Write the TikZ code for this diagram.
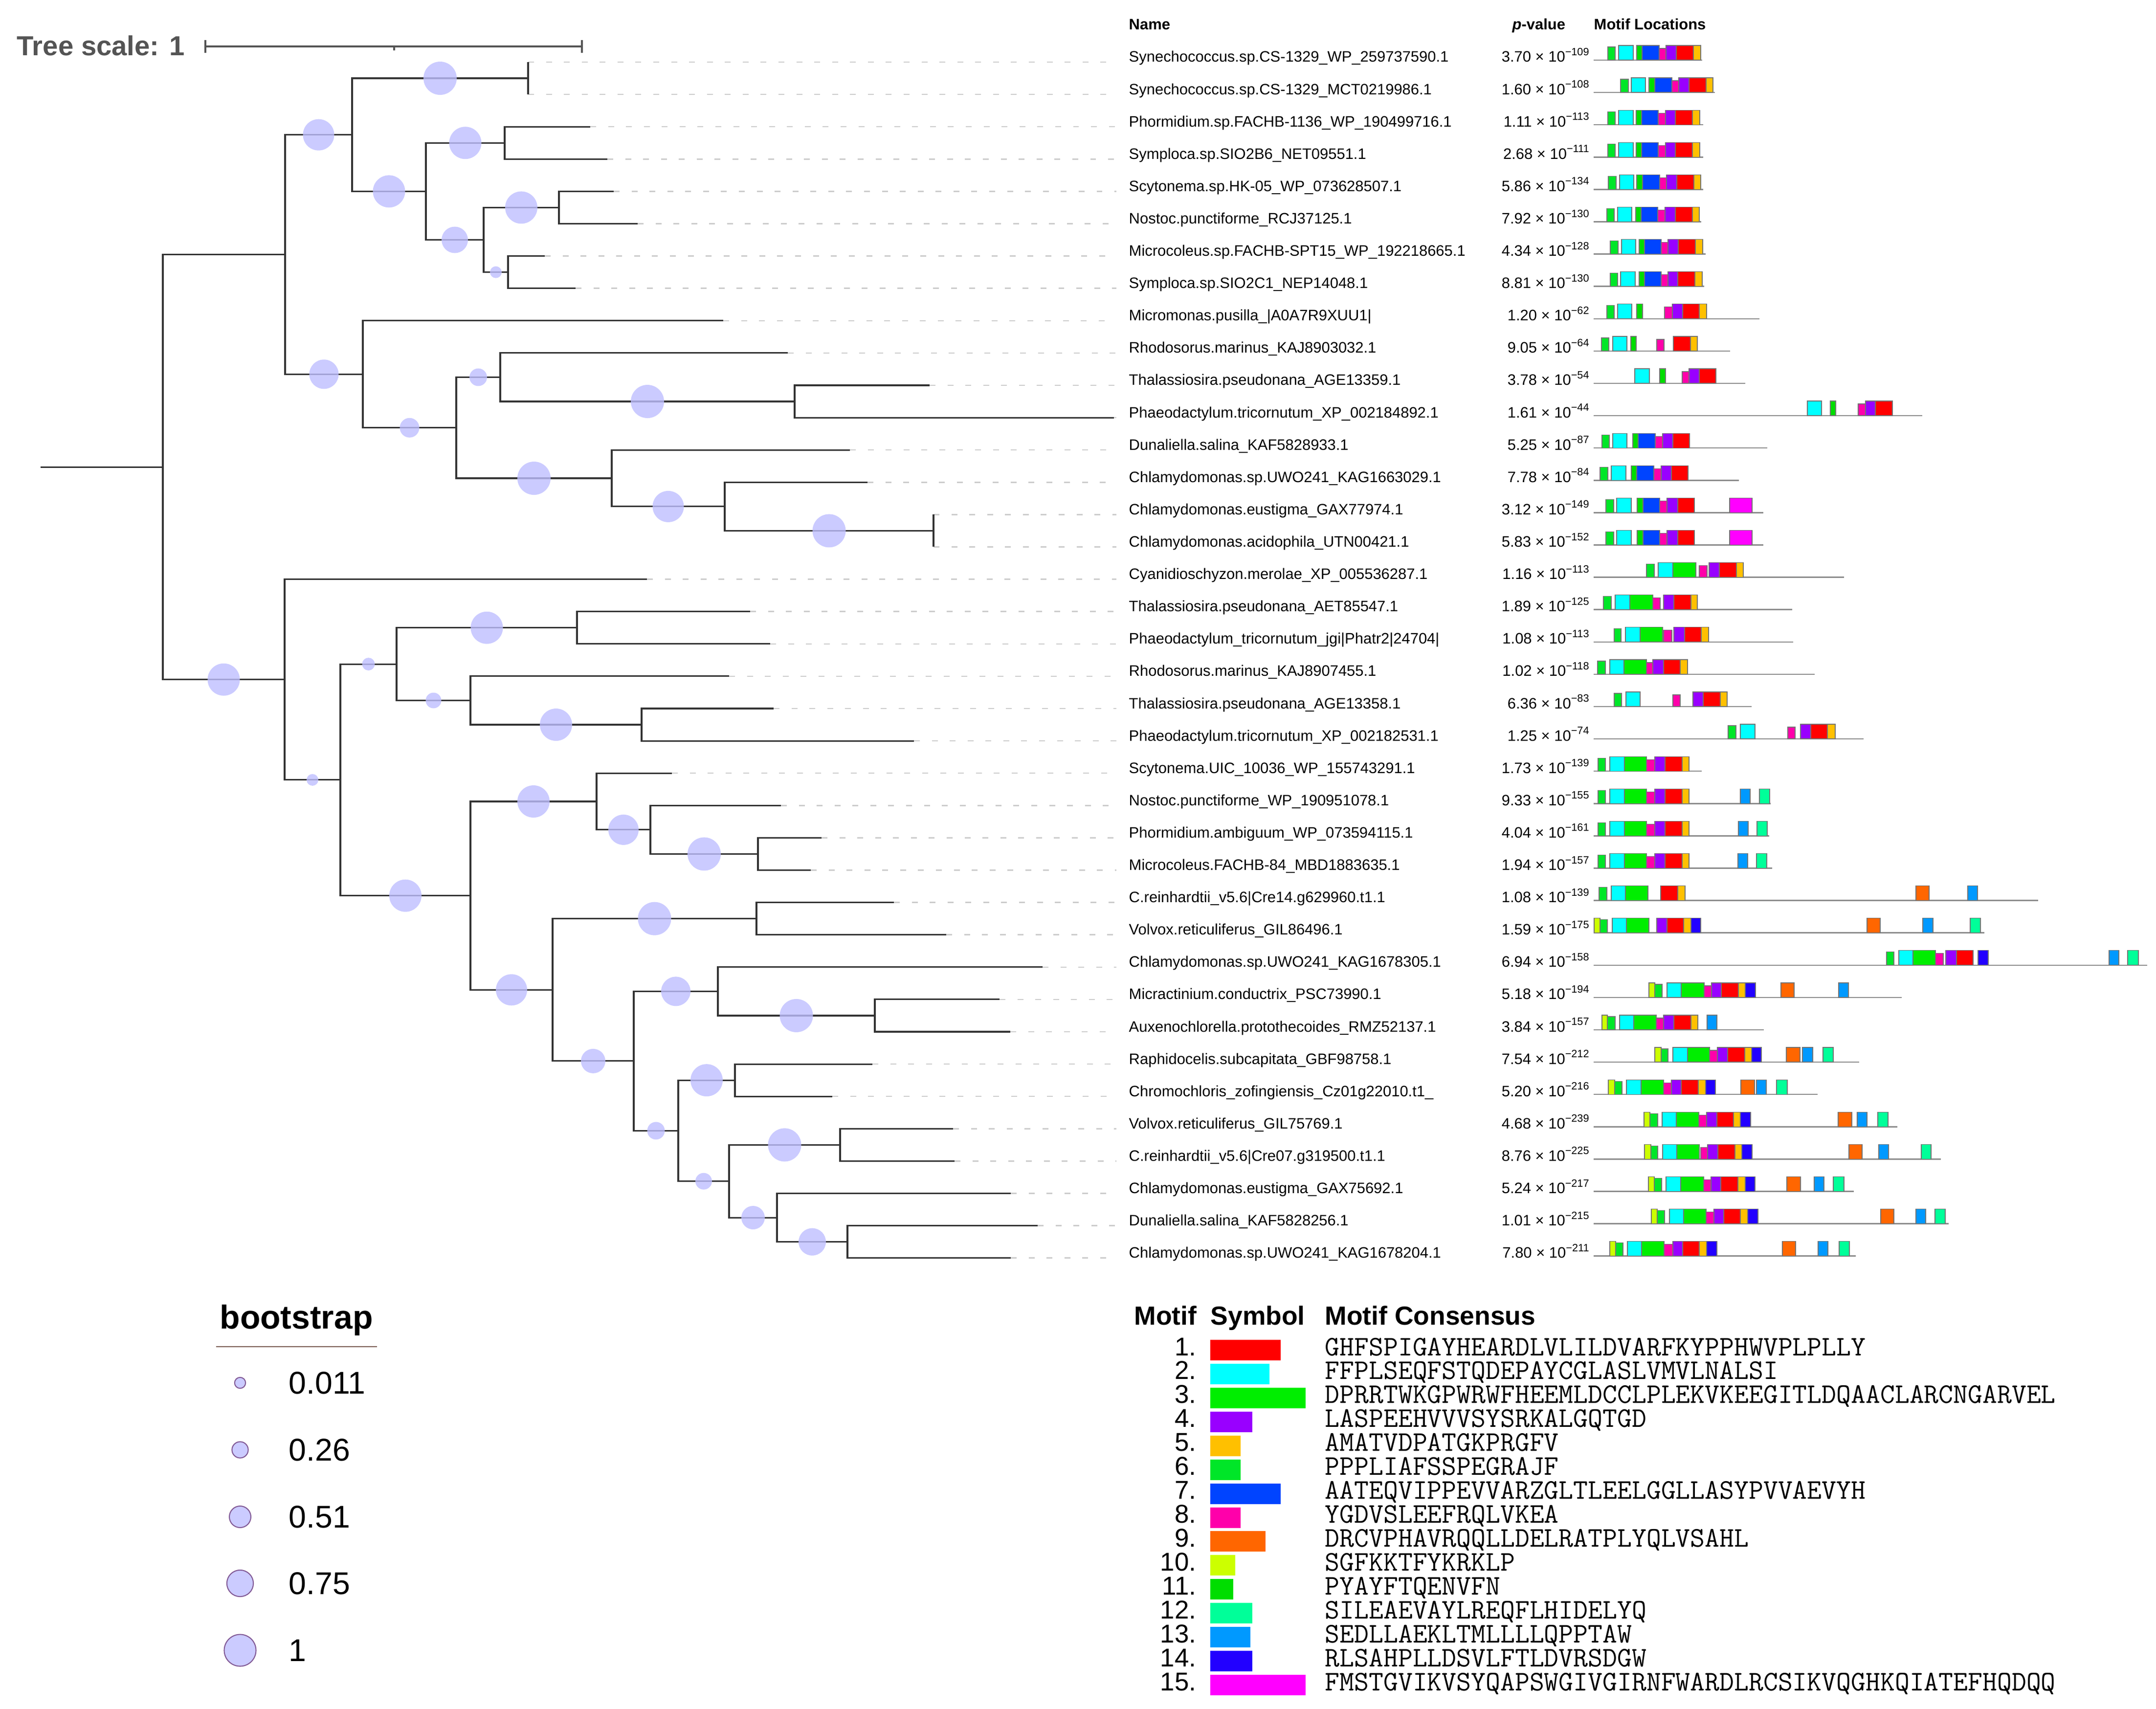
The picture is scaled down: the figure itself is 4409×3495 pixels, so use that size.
\documentclass[tikz,border=0pt]{standalone}
\usepackage{fontspec}
\setmainfont{Liberation Sans}
\usetikzlibrary{calc}

\definecolor{m1}{RGB}{255,0,0}
\definecolor{m2}{RGB}{0,255,255}
\definecolor{m3}{RGB}{0,238,0}
\definecolor{m4}{RGB}{153,0,255}
\definecolor{m5}{RGB}{255,192,0}
\definecolor{m6}{RGB}{0,230,40}
\definecolor{m7}{RGB}{0,68,255}
\definecolor{m8}{RGB}{255,0,170}
\definecolor{m9}{RGB}{255,102,0}
\definecolor{m10}{RGB}{204,255,0}
\definecolor{m11}{RGB}{0,221,0}
\definecolor{m12}{RGB}{0,255,153}
\definecolor{m13}{RGB}{0,153,255}
\definecolor{m14}{RGB}{34,0,255}
\definecolor{m15}{RGB}{255,0,255}
\definecolor{bootfill}{RGB}{190,190,255}
\definecolor{bootline}{RGB}{130,90,150}
\definecolor{rulebrown}{RGB}{120,90,80}

\begin{document}
\begin{tikzpicture}[x=0.01cm, y=-0.01cm,
	branch/.style={draw=black!80, line width=0.9pt},
	boot/.style={fill=bootfill, fill opacity=0.8},
	leader/.style={draw=black!20, line width=0.7pt, dash pattern=on 3.4pt off 7pt},
	taxon/.style={anchor=base west, inner xsep=0.25cm, inner ysep=0pt, font=\fontsize{8.8}{10}\selectfont},
	pval/.style={anchor=base east, inner sep=0pt, font=\fontsize{8.8}{10}\selectfont},
	head/.style={anchor=base west, inner sep=0pt, font=\fontsize{8.8}{10}\selectfont\bfseries},
	seqline/.style={draw=black!45, line width=0.7pt},
	motifbox/.style={draw=black!55, line width=0.35pt},
	bootkey/.style={circle, draw=bootline, line width=0.6pt, fill=bootfill!80, inner sep=0pt},
	bootval/.style={anchor=west, inner sep=0pt, font=\fontsize{18.3}{20}\selectfont},
	keyhead/.style={anchor=base west, inner sep=0pt, font=\fontsize{15.2}{17}\selectfont\bfseries},
	motifno/.style={anchor=base east, inner sep=0pt, font=\fontsize{15}{17}\selectfont},
	consensus/.style={anchor=base west, inner sep=0pt, text height=0.62em, text depth=0.1em, font=\fontsize{16.5}{18}\selectfont\ttfamily}]

	\useasboundingbox (0,0) rectangle (4409,3495);

	%%%%% SCALE %%%%%
	\node[anchor=base west, inner sep=0pt, text=black!67, font=\fontsize{16}{18}\selectfont\bfseries] (scaletext) at (34,114) {Tree scale: 1};
	\draw[draw=black!67, line width=0.9pt] (420,95) -- (1190,95);
	\draw[draw=black!67, line width=0.9pt] (420,82) -- (420,108);
	\draw[draw=black!67, line width=0.9pt] (1190,82) -- (1190,108);
	\draw[draw=black!67, line width=0.9pt] (806,95) -- (806,103);

	%%%%% HEADERS %%%%%
	\node[head] (hname) at (2308,61) {Name};
	\node[head] (hpval) at (3092,61) {\textit{p}-value};
	\node[head] (hloc) at (3259,61) {Motif Locations};

	%%%%% TREE NODES %%%%%
	\coordinate (stem) at (83,955.1);
	\coordinate (R) at (333,955.1);
	\coordinate (A) at (583,520.5);
	\coordinate (A1) at (720,275.7);
	\coordinate (A1a) at (1080,160.05);
	\coordinate (A1b) at (871,391.4);
	\coordinate (A1b1) at (1032,292.25);
	\coordinate (A1b2) at (989,490.55);
	\coordinate (A1b2a) at (1143,424.45);
	\coordinate (A1b2b) at (1039,556.65);
	\coordinate (A2) at (742,765.3);
	\coordinate (A2b) at (933,874.8);
	\coordinate (A2b1) at (1023,771.5);
	\coordinate (A2b1b) at (1625,821.05);
	\coordinate (A2b2) at (1251,978.05);
	\coordinate (A2b2b) at (1482,1035.9);
	\coordinate (A2b2b2) at (1909,1085.45);
	\coordinate (B) at (582,1389.75);
	\coordinate (B2) at (696,1594.9);
	\coordinate (B2a) at (811,1358.1);
	\coordinate (B2a1) at (1180,1283.75);
	\coordinate (B2a2) at (962,1432.5);
	\coordinate (B2a2b) at (1312,1482.05);
	\coordinate (B2b) at (962,1831.7);
	\coordinate (B2b1) at (1220,1639.05);
	\coordinate (B2b1b) at (1330,1696.9);
	\coordinate (B2b1b2) at (1550,1746.45);
	\coordinate (B2b2) at (1130,2024.3);
	\coordinate (B2b2a) at (1547,1878.65);
	\coordinate (B2b2b) at (1296,2169.9);
	\coordinate (B2b2b1) at (1468,2027.4);
	\coordinate (B2b2b1b) at (1789,2076.95);
	\coordinate (B2b2b2) at (1387,2312.4);
	\coordinate (B2b2b2a) at (1503,2209.15);
	\coordinate (B3) at (1491,2415.7);
	\coordinate (B3a) at (1718,2341.35);
	\coordinate (B3b) at (1589,2490.1);
	\coordinate (B3b2) at (1733,2539.65);

	%%%%% LEAVES, NAMES, P-VALUES %%%%%
	\foreach \i/\tx/\nm/\pv/\pe in {
		1/1080/Synechococcus.sp.CS-1329\_WP\_259737590.1/3.70/109,
		2/1080/Synechococcus.sp.CS-1329\_MCT0219986.1/1.60/108,
		3/1207/Phormidium.sp.FACHB-1136\_WP\_190499716.1/1.11/113,
		4/1242/Symploca.sp.SIO2B6\_NET09551.1/2.68/111,
		5/1255/Scytonema.sp.HK-05\_WP\_073628507.1/5.86/134,
		6/1304/Nostoc.punctiforme\_RCJ37125.1/7.92/130,
		7/1114/Microcoleus.sp.FACHB-SPT15\_WP\_192218665.1/4.34/128,
		8/1177/Symploca.sp.SIO2C1\_NEP14048.1/8.81/130,
		9/1479/Micromonas.pusilla\_|A0A7R9XUU1|/1.20/62,
		10/1611/Rhodosorus.marinus\_KAJ8903032.1/9.05/64,
		11/1901/Thalassiosira.pseudonana\_AGE13359.1/3.78/54,
		12/2278/Phaeodactylum.tricornutum\_XP\_002184892.1/1.61/44,
		13/1738/Dunaliella.salina\_KAF5828933.1/5.25/87,
		14/1774/Chlamydomonas.sp.UWO241\_KAG1663029.1/7.78/84,
		15/1909/Chlamydomonas.eustigma\_GAX77974.1/3.12/149,
		16/1909/Chlamydomonas.acidophila\_UTN00421.1/5.83/152,
		17/1323/Cyanidioschyzon.merolae\_XP\_005536287.1/1.16/113,
		18/1534/Thalassiosira.pseudonana\_AET85547.1/1.89/125,
		19/1575/Phaeodactylum\_tricornutum\_jgi|Phatr2|24704|/1.08/113,
		20/1491/Rhodosorus.marinus\_KAJ8907455.1/1.02/118,
		21/1582/Thalassiosira.pseudonana\_AGE13358.1/6.36/83,
		22/1869/Phaeodactylum.tricornutum\_XP\_002182531.1/1.25/74,
		23/1374/Scytonema.UIC\_10036\_WP\_155743291.1/1.73/139,
		24/1597/Nostoc.punctiforme\_WP\_190951078.1/9.33/155,
		25/1680/Phormidium.ambiguum\_WP\_073594115.1/4.04/161,
		26/1658/Microcoleus.FACHB-84\_MBD1883635.1/1.94/157,
		27/1828/C.reinhardtii\_v5.6|Cre14.g629960.t1.1/1.08/139,
		28/1935/Volvox.reticuliferus\_GIL86496.1/1.59/175,
		29/2132/Chlamydomonas.sp.UWO241\_KAG1678305.1/6.94/158,
		30/2044/Micractinium.conductrix\_PSC73990.1/5.18/194,
		31/2066/Auxenochlorella.protothecoides\_RMZ52137.1/3.84/157,
		32/1784/Raphidocelis.subcapitata\_GBF98758.1/7.54/212,
		33/1702/Chromochloris\_zofingiensis\_Cz01g22010.t1\_/5.20/216,
		34/1949/Volvox.reticuliferus\_GIL75769.1/4.68/239,
		35/1952/C.reinhardtii\_v5.6|Cre07.g319500.t1.1/8.76/225,
		36/2067/Chlamydomonas.eustigma\_GAX75692.1/5.24/217,
		37/2122/Dunaliella.salina\_KAF5828256.1/1.01/215,
		38/2067/Chlamydomonas.sp.UWO241\_KAG1678204.1/7.80/211}{
		\pgfmathsetmacro\yy{127+66.1*(\i-1)}
		\coordinate (t\i) at (\tx,\yy);
		\node[taxon] (n\i) at (2283,\yy) {\nm};
		\node[pval] (p\i) at (3252,\yy) {\pv\ × 10\textsuperscript{−\pe}};
		\draw[leader] (t\i) -- (t\i -| n\i.west);
	}

	%%%%% BRANCHES %%%%%
	\draw[branch] (stem) -- (R);
	\foreach \p/\c in {R/A, R/B, A/A1, A/A2, A1/A1a, A1/A1b, A1a/t1, A1a/t2,
		A1b/A1b1, A1b/A1b2, A1b1/t3, A1b1/t4, A1b2/A1b2a, A1b2/A1b2b,
		A1b2a/t5, A1b2a/t6, A1b2b/t7, A1b2b/t8, A2/t9, A2/A2b, A2b/A2b1,
		A2b/A2b2, A2b1/t10, A2b1/A2b1b, A2b1b/t11, A2b1b/t12, A2b2/t13,
		A2b2/A2b2b, A2b2b/t14, A2b2b/A2b2b2, A2b2b2/t15, A2b2b2/t16,
		B/t17, B/B2, B2/B2a, B2/B2b, B2a/B2a1, B2a/B2a2, B2a1/t18, B2a1/t19,
		B2a2/t20, B2a2/B2a2b, B2a2b/t21, B2a2b/t22, B2b/B2b1, B2b/B2b2,
		B2b1/t23, B2b1/B2b1b, B2b1b/t24, B2b1b/B2b1b2, B2b1b2/t25, B2b1b2/t26,
		B2b2/B2b2a, B2b2/B2b2b, B2b2a/t27, B2b2a/t28, B2b2b/B2b2b1,
		B2b2b/B2b2b2, B2b2b1/t29, B2b2b1/B2b2b1b, B2b2b1b/t30, B2b2b1b/t31,
		B2b2b2/B2b2b2a, B2b2b2/B3, B2b2b2a/t32, B2b2b2a/t33, B3/B3a, B3/B3b,
		B3a/t34, B3a/t35, B3b/t36, B3b/B3b2, B3b2/t37, B3b2/t38}
		\draw[branch] (\p) |- (\c);

	%%%%% BOOTSTRAP %%%%%
	\foreach \p/\c/\r in {R/B/33, A/A1/32, A1/A1a/34, A1/A1b/33, A1b/A1b1/33,
		A1b/A1b2/27, A1b2/A1b2a/33, A1b2/A1b2b/12, A/A2/30, A2/A2b/20,
		A2b/A2b1/18, A2b1/A2b1b/34, A2b/A2b2/34, A2b2/A2b2b/32, A2b2b/A2b2b2/34,
		B/B2/12, B2/B2a/13, B2a/B2a1/33, B2a/B2a2/16, B2a2/B2a2b/33, B2/B2b/33,
		B2b/B2b1/33, B2b1/B2b1b/31, B2b1b/B2b1b2/34, B2b/B2b2/32, B2b2/B2b2a/34,
		B2b2/B2b2b/25, B2b2b/B2b2b1/30, B2b2b1/B2b2b1b/34, B2b2b/B2b2b2/18,
		B2b2b2/B2b2b2a/33, B2b2b2/B3/17, B3/B3a/34, B3/B3b/24, B3b/B3b2/28}
		\fill[boot] ($(\p |- \c)!0.5!(\c)$) circle (\r);

	%%%%% MOTIF LOCATIONS %%%%%
	\foreach \i/\len/\boxes in {
		1/222/{6/29/44,2/51/81,11/88/99,7/99/134,8/134/148,4/148/169,1/169/204,5/204/219},
		2/248/{6/55/71,2/77/106,11/113/125,7/125/160,8/160/174,4/174/195,1/195/230,5/230/244},
		3/224/{6/29/44,2/51/81,11/87/98,7/98/132,8/132/147,4/147/167,1/167/202,5/202/217},
		4/224/{6/29/44,2/51/81,11/87/98,7/98/132,8/132/147,4/147/167,1/167/202,5/202/217},
		5/224/{6/30/46,2/53/82,11/88/100,7/100/135,8/135/149,4/149/170,1/170/205,5/205/219},
		6/220/{6/27/42,2/49/78,11/86/97,7/97/131,8/131/146,4/146/167,1/167/202,5/202/216},
		7/229/{6/34/50,2/57/86,11/93/104,7/104/138,8/138/152,4/152/173,1/173/208,5/208/223},
		8/226/{6/34/49,2/55/85,11/93/104,7/104/138,8/138/152,4/152/172,1/172/207,5/207/222},
		9/339/{6/27/42,2/49/78,11/88/100,8/145/161,4/161/182,1/182/216,5/216/231},
		10/279/{6/16/31,2/39/68,11/76/87,8/129/144,1/163/198,5/198/212},
		11/310/{2/84/114,11/135/147,8/181/195,4/195/216,1/216/250},
		12/672/{2/437/466,11/484/495,8/541/556,4/556/576,1/576/611},
		13/355/{6/17/32,2/39/68,11/80/91,7/91/126,8/126/141,4/141/162,1/162/196},
		14/297/{6/13/29,2/36/66,11/77/88,7/88/123,8/123/138,4/138/159,1/159/193},
		15/347/{6/25/41,2/47/77,11/89/101,7/101/135,8/135/150,4/150/172,1/172/206,15/278/324},
		16/347/{6/25/41,2/47/77,11/89/101,7/101/135,8/135/150,4/150/172,1/172/206,15/278/324},
		17/512/{6/108/124,2/132/162,3/162/209,8/216/232,4/236/257,1/257/292,5/292/306},
		18/406/{6/20/36,2/44/74,3/74/121,8/121/136,4/143/164,1/164/199,5/199/212},
		19/408/{6/42/56,2/65/95,3/95/141,8/143/160,4/164/186,1/186/220,5/220/235},
		20/452/{6/8/24,2/33/62,3/62/108,8/108/121,4/121/143,1/143/177,5/177/192},
		21/323/{6/42/57,2/66/95,8/162/177,4/203/224,1/224/259,5/259/273},
		22/552/{6/275/291,2/300/330,8/397/412,4/423/444,1/444/478,5/478/494},
		23/221/{6/9/24,2/33/63,3/63/108,8/108/125,4/125/146,1/146/181,5/181/195},
		24/362/{6/9/24,2/33/63,3/63/108,8/108/125,4/125/146,1/146/181,5/181/195,13/300/320,12/339/360},
		25/359/{6/9/24,2/33/63,3/63/108,8/108/125,4/125/146,1/146/181,5/181/195,13/296/316,12/334/355},
		26/365/{6/9/24,2/33/63,3/63/108,8/108/125,4/125/146,1/146/181,5/181/195,13/295/315,12/333/354},
		27/909/{6/11/27,2/36/65,3/65/111,1/137/172,5/172/187,9/659/686,13/765/785},
		28/799/{10/1/13,6/13/28,2/38/67,3/67/113,4/129/150,1/150/184,5/184/199,14/199/219,9/559/586,13/673/694,12/770/791},
		29/1132/{6/599/614,2/624/653,3/653/699,8/699/715,4/720/742,1/742/776,14/786/807,13/1054/1074,12/1092/1114},
		30/630/{10/113/125,6/125/140,2/150/179,3/179/226,8/226/241,4/241/261,1/261/296,5/296/310,14/310/331,9/383/410,13/501/521},
		31/348/{10/17/28,6/28/44,2/53/82,3/82/128,8/128/143,4/143/164,1/164/199,5/199/213,13/232/252},
		32/543/{10/125/138,6/138/152,2/162/192,3/192/237,8/237/253,4/253/274,1/274/309,5/309/323,14/323/343,9/394/422,13/427/448,12/469/490},
		33/458/{10/30/43,6/43/58,2/67/97,3/97/143,8/143/159,4/159/179,1/179/214,5/214/229,14/229/249,9/301/329,13/333/353,12/374/396},
		34/621/{10/103/115,6/115/131,2/140/169,3/169/215,8/215/231,4/231/252,1/252/286,5/286/300,14/300/321,9/500/528,13/539/559,12/581/602},
		35/710/{10/104/117,6/117/131,2/141/170,3/170/216,8/219/233,4/233/254,1/254/289,5/289/303,14/303/324,9/522/549,13/583/603,12/670/690},
		36/532/{10/112/124,6/124/139,2/148/178,3/178/225,8/225/240,4/240/260,1/260/295,5/295/310,14/310/330,9/395/423,13/451/471,12/490/512},
		37/726/{10/118/130,6/130/145,2/155/184,3/184/230,8/230/246,4/246/266,1/266/300,5/300/315,14/315/336,9/587/614,13/659/679,12/698/719},
		38/536/{10/33/45,6/45/60,2/69/98,3/98/144,8/144/162,4/162/182,1/182/216,5/216/231,14/231/252,9/386/413,13/459/479,12/502/523}}{
		\pgfmathsetmacro\yb{127+66.1*(\i-1)-4}
		\draw[seqline] (3259,\yb) -- ++(\len,0);
		\foreach \m/\ms/\me in \boxes {
			\pgfmathsetmacro\mh{(\m==8)?24:((\m==6)?27:30)}
			\draw[motifbox, fill=m\m] (3259+\ms,\yb) rectangle (3259+\me,\yb-\mh);
		}
	}

	%%%%% BOOTSTRAP KEY %%%%%
	\node[anchor=base, inner sep=0pt, font=\fontsize{19.3}{21}\selectfont\bfseries] (bkhead) at (606,2717) {bootstrap};
	\draw[draw=rulebrown, line width=0.6pt] (442,2754) -- (771,2754);
	\foreach \j/\yk/\r/\val in {1/2828/11.2/0.011, 2/2965/16.6/0.26, 3/3102/22/0.51, 4/3238/27.1/0.75, 5/3375/32.5/1}{
		\node[bootkey, minimum size=2*\r*0.01cm] (bk\j) at (491,\yk) {};
		\node[bootval] (bv\j) at (590,\yk) {\val};
	}

	%%%%% MOTIF KEY %%%%%
	\node[keyhead] (khmotif) at (2319,2709) {Motif};
	\node[keyhead] (khsym) at (2475,2709) {Symbol};
	\node[keyhead] (khcons) at (2709,2709) {Motif Consensus};
	\foreach \k/\w/\seq in {
		1/37/GHFSPIGAYHEARDLVLILDVARFKYPPHWVPLPLLY,
		2/31/FFPLSEQFSTQDEPAYCGLASLVMVLNALSI,
		3/50/DPRRTWKGPWRWFHEEMLDCCLPLEKVKEEGITLDQAACLARCNGARVEL,
		4/22/LASPEEHVVVSYSRKALGQTGD,
		5/16/AMATVDPATGKPRGFV,
		6/16/PPPLIAFSSPEGRAJF,
		7/37/AATEQVIPPEVVARZGLTLEELGGLLASYPVVAEVYH,
		8/16/YGDVSLEEFRQLVKEA,
		9/29/DRCVPHAVRQQLLDELRATPLYQLVSAHL,
		10/13/SGFKKTFYKRKLP,
		11/12/PYAYFTQENVFN,
		12/22/SILEAEVAYLREQFLHIDELYQ,
		13/21/SEDLLAEKLTMLLLLQPPTAW,
		14/22/RLSAHPLLDSVLFTLDVRSDGW,
		15/50/FMSTGVIKVSYQAPSWGIVGIRNFWARDLRCSIKVQGHKQIATEFHQDQQ}{
		\pgfmathsetmacro\yk{2772+48.93*(\k-1)}
		\node[motifno] (mn\k) at (2447,\yk) {\k.};
		\fill[m\k] (2475,\yk-32) rectangle ++(3.9*\w,42);
		\node[consensus] (mc\k) at (2709,\yk) {\seq};
	}

\end{tikzpicture}
\end{document}
